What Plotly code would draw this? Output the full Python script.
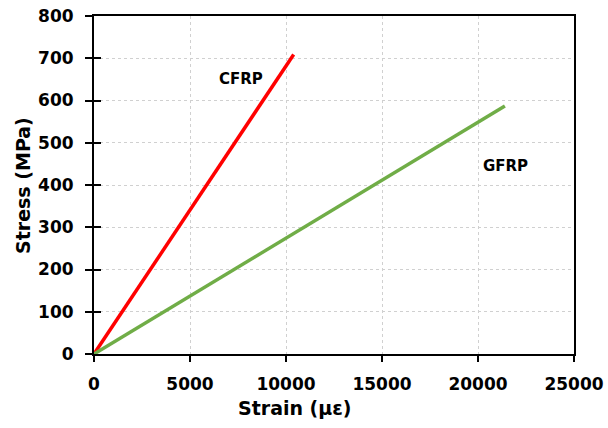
import plotly.graph_objects as go

# Data
cfrp_strain = [0, 10400]
cfrp_stress = [0, 709]
gfrp_strain = [0, 21400]
gfrp_stress = [0, 587]
labels = ["CFRP", "GFRP"]
label_x = [7650, 21450]
label_y = [652, 444]
x_ticks = [0, 5000, 10000, 15000, 20000, 25000]
y_ticks = [0, 100, 200, 300, 400, 500, 600, 700, 800]

FONT = "DejaVu Sans"
fig = go.Figure()
fig.add_trace(go.Scatter(x=cfrp_strain, y=cfrp_stress, mode="lines",
                         line=dict(color="#ff0000", width=3.5), name="CFRP"))
fig.add_trace(go.Scatter(x=gfrp_strain, y=gfrp_stress, mode="lines",
                         line=dict(color="#70ad47", width=3.5), name="GFRP"))
# invisible trace so the overlay axis (inside tick marks) is drawn
fig.add_trace(go.Scatter(x=cfrp_strain, y=cfrp_stress, yaxis="y2", mode="lines",
                         line=dict(width=0), opacity=0, showlegend=False, hoverinfo="skip"))

for t, x, y in zip(labels, label_x, label_y):
    fig.add_annotation(x=x, y=y, text=t, showarrow=False,
                       font=dict(family=FONT, size=15, color="black", weight="bold"))

fig.add_annotation(xref="paper", yref="paper", x=-0.148, y=0.5, text="Stress (MPa)",
                   textangle=-90, showarrow=False, xanchor="center", yanchor="middle",
                   font=dict(family=FONT, size=19, color="black", weight="bold"))
fig.add_annotation(xref="paper", yref="paper", x=0.419, y=-0.16, text="Strain (με)",
                   showarrow=False, xanchor="center", yanchor="middle",
                   font=dict(family=FONT, size=19, color="black", weight="bold"))

tickfont = dict(family=FONT, size=17, color="black", weight="bold")
fig.update_layout(
    width=608, height=428,
    margin=dict(l=94, r=34, t=16, b=74),
    plot_bgcolor="white", paper_bgcolor="white",
    showlegend=False,
    font=dict(family=FONT, size=16, color="black"),
    xaxis=dict(range=[0, 25000], tickvals=x_ticks, ticktext=[str(v) for v in x_ticks],
               tickfont=tickfont, automargin=False, ticklabelstandoff=8,
               showgrid=True, gridcolor="#d0d0d0", griddash="dot", gridwidth=1,
               showline=True, linecolor="black", linewidth=2, mirror=True,
               ticks="outside", ticklen=6, tickwidth=2, tickcolor="black",
               zeroline=False, fixedrange=True),
    yaxis=dict(range=[0, 800], tickvals=y_ticks, ticktext=[str(v) for v in y_ticks],
               tickfont=tickfont, automargin=False, ticklabelstandoff=8,
               showgrid=True, gridcolor="#d0d0d0", griddash="dot", gridwidth=1,
               showline=True, linecolor="black", linewidth=2, mirror=True,
               ticks="outside", ticklen=7, tickwidth=2, tickcolor="black",
               zeroline=False, fixedrange=True),
    yaxis2=dict(range=[0, 800], overlaying="y", side="left", tickvals=y_ticks,
                showticklabels=False, showgrid=False, zeroline=False, automargin=False,
                ticks="inside", ticklen=7, tickwidth=2, tickcolor="black",
                showline=False, fixedrange=True),
)
fig.write_html("out.html")
